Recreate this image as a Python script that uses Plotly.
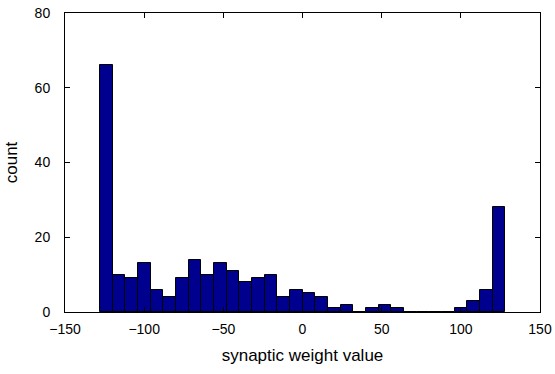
import plotly.graph_objects as go

bin_centers = [-124, -116, -108, -100, -92, -84, -76, -68, -60, -52, -44, -36, -28, -20, -12, -4,
               4, 12, 20, 28, 36, 44, 52, 60, 68, 76, 84, 92, 100, 108, 116, 124]
counts = [66, 10, 9, 13, 6, 4, 9, 14, 10, 13, 11, 8, 9, 10, 4, 6,
          5, 4, 1, 2, 0, 1, 2, 1, 0, 0, 0, 0, 1, 3, 6, 28]
bin_width = 8
x_ticks = [-150, -100, -50, 0, 50, 100, 150]
x_tick_text = ["\u2212150", "\u2212100", "\u221250", "0", "50", "100", "150"]
y_ticks = [0, 20, 40, 60, 80]

font = "Liberation Sans, Arial, Helvetica, sans-serif"

fig = go.Figure(go.Bar(
    x=bin_centers, y=counts, width=bin_width,
    marker=dict(color="#00008F", line=dict(color="black", width=1)),
))

fig.update_layout(
    width=555, height=374,
    margin=dict(l=65, r=15, t=13, b=62, autoexpand=False),
    plot_bgcolor="white", paper_bgcolor="white",
    font=dict(family=font, size=14, color="black"),
    showlegend=False, bargap=0,
)
fig.update_xaxes(
    range=[-150, 150], tickvals=x_ticks, ticktext=x_tick_text,
    ticks="inside", ticklen=5, tickcolor="black", showline=True, linecolor="black",
    linewidth=1, mirror="ticks", showgrid=False, zeroline=False,
    title=dict(text="synaptic weight value", standoff=13),
    ticklabelstandoff=4, automargin=False,
)
fig.update_yaxes(
    range=[0, 80], tickvals=y_ticks,
    ticks="inside", ticklen=5, tickcolor="black", showline=True, linecolor="black",
    linewidth=1, mirror="ticks", showgrid=False, zeroline=False,
    title=dict(text="count", standoff=12),
    ticklabelstandoff=11, automargin=False,
)

fig.write_html(
    "out.html",
    config={"displayModeBar": False},
    post_script="document.body.style.margin='0';document.body.style.overflow='hidden';",
)
